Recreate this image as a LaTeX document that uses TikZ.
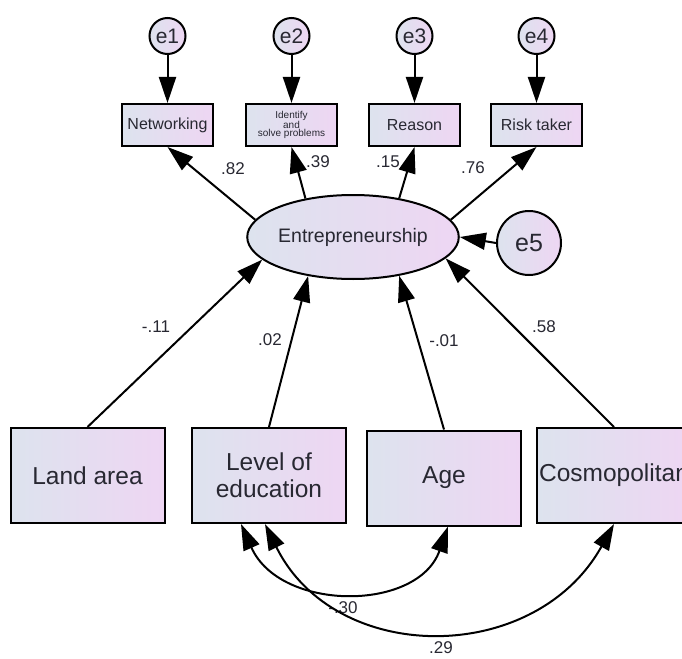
\documentclass[tikz,border=0pt]{standalone}
\usepackage{fontspec}
\setmainfont{Liberation Sans}
\usetikzlibrary{arrows.meta,shapes.geometric}
\definecolor{gL}{RGB}{221,227,238}
\definecolor{gR}{RGB}{238,214,243}
\definecolor{txt}{RGB}{40,40,50}
\tikzset{
 obs/.style={draw=black,line width=2pt,left color=gL,right color=gR,text=txt,inner sep=0pt,align=center},
 smallbox/.style={obs,minimum width=91pt,minimum height=42pt,font=\fontsize{16}{18}\selectfont},
 tinybox/.style={obs,minimum width=91pt,minimum height=42pt,font=\fontsize{10}{8.5}\selectfont},
 bigbox/.style={obs,minimum width=154pt,minimum height=95pt,font=\fontsize{24.5}{27}\selectfont},
 errc/.style={circle,draw=black,line width=2pt,left color=gL,right color=gR,text=txt,inner sep=0pt,minimum size=36pt,font=\fontsize{21}{24}\selectfont},
 latent/.style={ellipse,draw=black,line width=2pt,left color=gL,right color=gR,text=txt,inner sep=0pt,minimum width=190pt,minimum height=84pt,font=\fontsize{19.5}{22}\selectfont},
 arr/.style={line width=2pt,-{Triangle[length=26pt,width=17pt]}},
 covarr/.style={line width=2pt,{Triangle[length=26pt,width=17pt]}-{Triangle[length=26pt,width=17pt]}},
 lbl/.style={text=txt,font=\fontsize{17}{20}\selectfont,inner sep=0pt},
}
\begin{document}
\begin{tikzpicture}[x=1pt,y=-1pt]
\path[use as bounding box] (0,0) rectangle (682,658);
\clip (0,0) rectangle (682,658);
\fill[white] (0,0) rectangle (682,658);
% indicators
\node[smallbox] (net) at (167.5,125) {Networking};
\node[tinybox] (idf) at (291.5,125) {Identify\\and\\solve problems};
\node[smallbox] (rea) at (414.5,125) {Reason};
\node[smallbox] (risk) at (536.5,125) {Risk taker};
% errors
\node[errc] (e1) at (167.5,36) {e1};
\node[errc] (e2) at (291.5,36) {e2};
\node[errc] (e3) at (414.5,36) {e3};
\node[errc] (e4) at (536.5,36) {e4};
% latent
\node[latent] (ent) at (353,237) {Entrepreneurship};
\node[errc,minimum size=64pt,font=\fontsize{25}{28}\selectfont] (e5) at (529,243) {e5};
% predictors
\node[bigbox] (land) at (87.5,475.5) {Land area};
\node[bigbox] (lev) at (269,475.5) {Level of\\education};
\node[bigbox] (age) at (444,478) {Age};
\node[bigbox] (cos) at (614,475.5) {Cosmopolitan};
% error arrows
\draw[arr] (e1.south) -- (net.north);
\draw[arr] (e2.south) -- (idf.north);
\draw[arr] (e3.south) -- (rea.north);
\draw[arr] (e4.south) -- (risk.north);
\draw[arr] (e5.west) -- (ent.east);
% loadings
\draw[arr] (ent.170) -- (net.south);
\draw[arr] (ent.141) -- (idf.south);
\draw[arr] (ent.40) -- (rea.south);
\draw[arr] (ent.10) -- (risk.south);
% regressions
\draw[arr] (land.north) -- (ent.194);
\draw[arr] (lev.north) -- (ent.221);
\draw[arr] (age.north) -- (ent.320);
\draw[arr] (cos.north) -- (ent.347);
% labels
\node[lbl] (l82) at (233,169) {.82};
\node[lbl] (l39) at (318,162) {.39};
\node[lbl] (l15) at (388,162) {.15};
\node[lbl] (l76) at (473,168) {.76};
\node[lbl] (l11) at (156,327) {-.11};
\node[lbl] (l02) at (270,340) {.02};
\node[lbl] (l01) at (444,341) {-.01};
\node[lbl] (l58) at (544,327) {.58};
\node[lbl] (l30) at (343,608) {-.30};
\node[lbl] (l29) at (441,648) {.29};
% covariances
\draw[covarr] ([xshift=-28pt]lev.south) .. controls (280,612) and (418,612) .. ([xshift=4pt]age.south);
\draw[covarr] ([xshift=-4pt]lev.south) .. controls (335,666) and (535,666) .. (cos.south);
\end{tikzpicture}
\end{document}
